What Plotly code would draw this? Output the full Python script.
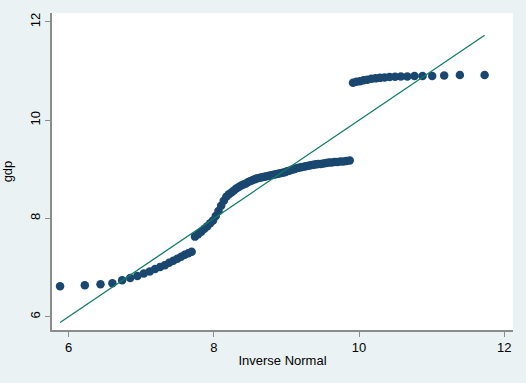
import plotly.graph_objects as go

# Inverse-normal quantiles (x) and sorted gdp values (y)
inv_normal = [
    5.881, 6.222, 6.438, 6.602, 6.736, 6.847, 6.946, 7.035, 7.116, 7.190,
    7.259, 7.324, 7.384, 7.441, 7.496, 7.549, 7.599, 7.648, 7.694,
    7.739, 7.783, 7.826, 7.869, 7.909, 7.949, 7.988, 8.026, 8.063, 8.100,
    8.136, 8.171, 8.206, 8.242, 8.275, 8.309, 8.343, 8.376, 8.408, 8.441,
    8.474, 8.506, 8.538, 8.570, 8.602, 8.633, 8.664, 8.696, 8.727, 8.759,
    8.790, 8.820, 8.851, 8.883, 8.914, 8.946, 8.977, 9.008, 9.039, 9.072,
    9.104, 9.136, 9.169, 9.201, 9.235, 9.267, 9.302, 9.335, 9.369, 9.404,
    9.439, 9.474, 9.510, 9.547, 9.584, 9.622, 9.661, 9.701, 9.741, 9.784,
    9.827, 9.871,
    9.916, 9.962, 10.011, 10.061, 10.114, 10.169, 10.226, 10.286, 10.351,
    10.420, 10.495, 10.575, 10.664, 10.763, 10.874, 11.007, 11.172, 11.388,
    11.729,
]
gdp = [
    6.62, 6.64, 6.66, 6.68, 6.74, 6.79, 6.83, 6.88, 6.92, 6.97,
    7.01, 7.05, 7.10, 7.14, 7.18, 7.22, 7.26, 7.29, 7.32,
    7.63, 7.68, 7.73, 7.79, 7.84, 7.90, 7.96, 8.05, 8.15, 8.26,
    8.36, 8.44, 8.49, 8.53, 8.57, 8.61, 8.64, 8.67, 8.69, 8.71,
    8.74, 8.76, 8.78, 8.80, 8.82, 8.83, 8.84, 8.85, 8.86, 8.87,
    8.88, 8.89, 8.90, 8.91, 8.92, 8.93, 8.94, 8.96, 8.97, 8.99,
    9.00, 9.02, 9.03, 9.04, 9.05, 9.06, 9.07, 9.08, 9.09, 9.10,
    9.11, 9.11, 9.12, 9.13, 9.14, 9.14, 9.15, 9.15, 9.16, 9.16,
    9.17, 9.18,
    10.76, 10.78, 10.79, 10.81, 10.82, 10.84, 10.85, 10.86, 10.87,
    10.88, 10.885, 10.89, 10.89, 10.90, 10.90, 10.90, 10.91, 10.92,
    10.92,
]
ref_line_x = [min(inv_normal), max(inv_normal)]
ref_line_y = ref_line_x  # reference line y = x

tick_vals = [6, 8, 10, 12]
tick_text = ["6", "8", "10", "12"]

fig = go.Figure()
fig.add_trace(go.Scatter(
    x=inv_normal, y=gdp, mode="markers",
    marker=dict(color="#1a476f", size=8.5, line=dict(width=0)),
    showlegend=False,
))
fig.add_trace(go.Scatter(
    x=ref_line_x, y=ref_line_y, mode="lines",
    line=dict(color="#127c66", width=1.3),
    showlegend=False,
))

axis_common = dict(
    showgrid=False, zeroline=False, showline=True, linecolor="#8c8c8c",
    linewidth=1.5, ticks="outside", ticklen=5, tickwidth=1.3, tickcolor="#8c8c8c",
    tickfont=dict(family="Liberation Sans, Arial, sans-serif", size=13, color="#000000"),
    tickvals=tick_vals, ticktext=tick_text, mirror=False, automargin=False,
)

fig.update_layout(
    width=526, height=383,
    margin=dict(l=52, r=13, t=13, b=53),
    paper_bgcolor="#eaf2f3", plot_bgcolor="#ffffff",
    font=dict(family="Liberation Sans, Arial, sans-serif", size=13, color="#000000"),
    xaxis=dict(range=[5.77, 12.12], title=dict(text="Inverse Normal", standoff=2,
               font=dict(size=13)), **axis_common),
    yaxis=dict(range=[5.73, 12.18], tickangle=-90,
               title=dict(text="gdp", standoff=12, font=dict(size=13)), **axis_common),
)

fig.write_html(
    "out.html",
    config={"displayModeBar": False},
    post_script="document.body.style.margin='0px';document.body.style.background='#eaf2f3';",
)
